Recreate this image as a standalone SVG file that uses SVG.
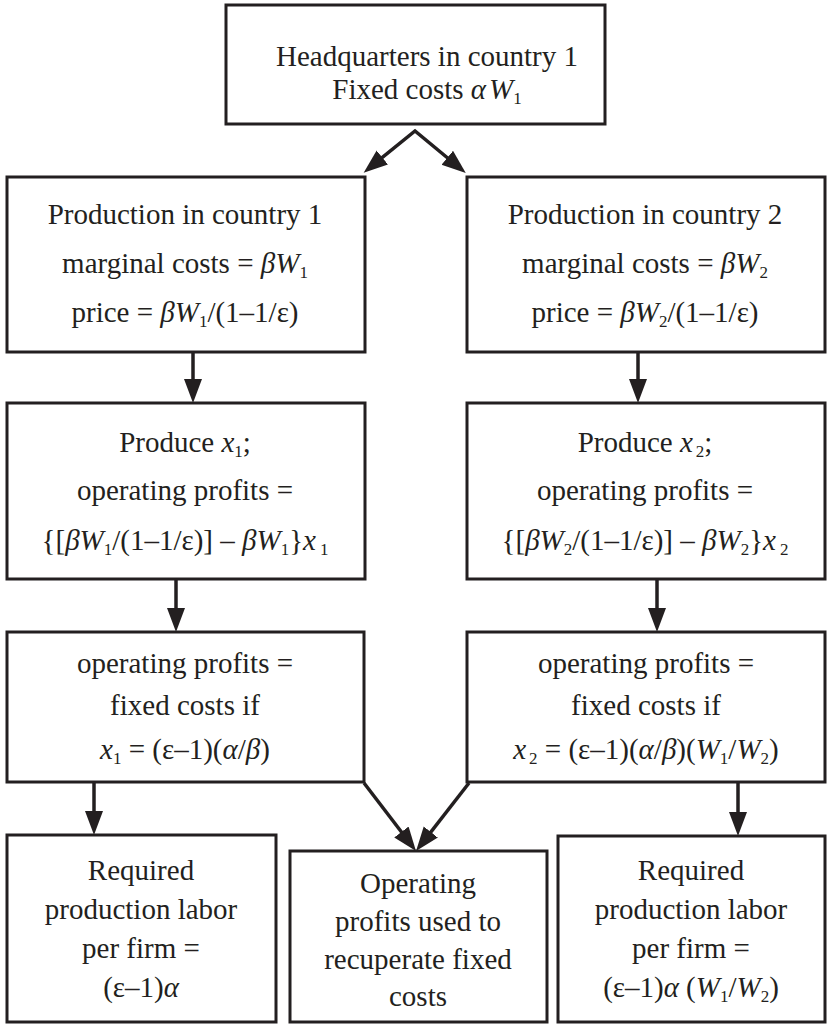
<svg xmlns="http://www.w3.org/2000/svg" width="827" height="1024" viewBox="0 0 827 1024">
  <style>
    .box { fill: #ffffff; stroke: #231f20; stroke-width: 3; }
    .lbl { font-family: "Liberation Serif", "DejaVu Serif", serif; font-size: 29px; fill: #231f20; text-anchor: middle; }
    .it { font-style: italic; }
    .sub { font-size: 17px; }
    .conn { fill: none; stroke: #231f20; stroke-width: 3.5; stroke-linejoin: miter; }
  </style>
  <defs>
    <marker id="head" markerUnits="userSpaceOnUse" markerWidth="26" markerHeight="20" viewBox="0 0 26 20" refX="13" refY="9" orient="auto-start-reverse">
      <path d="M0,0 L24,9 L0,18 z" fill="#231f20"/>
    </marker>
  </defs>
  <rect width="827" height="1024" fill="#ffffff"/>

  <!-- connectors -->
  <g id="connectors" class="conn" marker-end="url(#head)">
    <polyline points="372.2,165.7 415,131 457.3,166" marker-start="url(#head)"/>
    <line x1="193" y1="352" x2="193" y2="392"/>
    <line x1="638" y1="352" x2="638" y2="392"/>
    <line x1="176" y1="579" x2="176" y2="621"/>
    <line x1="657" y1="579" x2="657" y2="621"/>
    <line x1="94" y1="782" x2="94" y2="824"/>
    <line x1="738" y1="782" x2="738" y2="825"/>
    <line x1="364" y1="783" x2="409.3" y2="842.3"/>
    <line x1="469" y1="783" x2="422.8" y2="842.3"/>
  </g>

  <!-- headquarters -->
  <g id="hq">
    <rect class="box" x="226" y="5" width="379" height="119"/>
    <text class="lbl" x="427" y="66">Headquarters in country 1</text>
    <text class="lbl" x="427" y="99">Fixed costs <tspan class="it">α</tspan><tspan class="it" dx="3">W</tspan><tspan class="sub" dy="5">1</tspan></text>
  </g>

  <!-- production, country 1 -->
  <g id="prod1">
    <rect class="box" x="7" y="177" width="358" height="175"/>
    <text class="lbl" x="185" y="224">Production in country 1</text>
    <text class="lbl" x="185" y="273">marginal costs = <tspan class="it">βW</tspan><tspan class="sub" dy="5">1</tspan></text>
    <text class="lbl" x="185" y="322">price = <tspan class="it">βW</tspan><tspan class="sub" dy="5">1</tspan><tspan dy="-5">/(1–1/ε)</tspan></text>
  </g>

  <!-- production, country 2 -->
  <g id="prod2">
    <rect class="box" x="467" y="177" width="358" height="175"/>
    <text class="lbl" x="645" y="224">Production in country 2</text>
    <text class="lbl" x="645" y="273">marginal costs = <tspan class="it">βW</tspan><tspan class="sub" dy="5">2</tspan></text>
    <text class="lbl" x="645" y="322">price = <tspan class="it">βW</tspan><tspan class="sub" dy="5">2</tspan><tspan dy="-5">/(1–1/ε)</tspan></text>
  </g>

  <!-- output, country 1 -->
  <g id="output1">
    <rect class="box" x="7" y="403" width="358" height="176"/>
    <text class="lbl" x="185" y="452">Produce <tspan class="it">x</tspan><tspan class="sub" dy="5">1</tspan><tspan dy="-5">;</tspan></text>
    <text class="lbl" x="185" y="500">operating profits =</text>
    <text class="lbl" x="185" y="550">{[<tspan class="it">βW</tspan><tspan class="sub" dy="5">1</tspan><tspan dy="-5">/(1–1/ε)] – </tspan><tspan class="it">βW</tspan><tspan class="sub" dy="5">1</tspan><tspan dy="-5">}</tspan><tspan class="it">x</tspan><tspan class="sub" dx="4" dy="5">1</tspan></text>
  </g>

  <!-- output, country 2 -->
  <g id="output2">
    <rect class="box" x="467" y="403" width="358" height="176"/>
    <text class="lbl" x="645" y="452">Produce <tspan class="it">x</tspan><tspan class="sub" dx="3" dy="5">2</tspan><tspan dy="-5">;</tspan></text>
    <text class="lbl" x="645" y="500">operating profits =</text>
    <text class="lbl" x="645" y="550">{[<tspan class="it">βW</tspan><tspan class="sub" dy="5">2</tspan><tspan dy="-5">/(1–1/ε)] – </tspan><tspan class="it">βW</tspan><tspan class="sub" dy="5">2</tspan><tspan dy="-5">}</tspan><tspan class="it">x</tspan><tspan class="sub" dx="4" dy="5">2</tspan></text>
  </g>

  <!-- break-even, country 1 -->
  <g id="breakeven1">
    <rect class="box" x="7" y="632" width="357" height="150"/>
    <text class="lbl" x="185" y="673">operating profits =</text>
    <text class="lbl" x="185" y="715">fixed costs if</text>
    <text class="lbl" x="185" y="759"><tspan class="it">x</tspan><tspan class="sub" dy="5">1</tspan><tspan dy="-5"> = (ε–1)(</tspan><tspan class="it">α</tspan>/<tspan class="it">β</tspan>)</text>
  </g>

  <!-- break-even, country 2 -->
  <g id="breakeven2">
    <rect class="box" x="467" y="632" width="358" height="150"/>
    <text class="lbl" x="646" y="673">operating profits =</text>
    <text class="lbl" x="646" y="715">fixed costs if</text>
    <text class="lbl" x="646" y="759"><tspan class="it">x</tspan><tspan class="sub" dx="3" dy="5">2</tspan><tspan dy="-5"> = (ε–1)(</tspan><tspan class="it">α</tspan>/<tspan class="it">β</tspan>)(<tspan class="it">W</tspan><tspan class="sub" dy="5">1</tspan><tspan dy="-5">/</tspan><tspan class="it">W</tspan><tspan class="sub" dy="5">2</tspan><tspan dy="-5">)</tspan></text>
  </g>

  <!-- labor, country 1 -->
  <g id="labor1">
    <rect class="box" x="7" y="835" width="269" height="187"/>
    <text class="lbl" x="141" y="880">Required</text>
    <text class="lbl" x="141" y="919">production labor</text>
    <text class="lbl" x="141" y="958">per firm =</text>
    <text class="lbl" x="141" y="997">(ε–1)<tspan class="it">α</tspan></text>
  </g>

  <!-- fixed cost recovery -->
  <g id="recover">
    <rect class="box" x="290" y="851" width="257" height="171"/>
    <text class="lbl" x="418" y="893">Operating</text>
    <text class="lbl" x="418" y="931">profits used to</text>
    <text class="lbl" x="418" y="969">recuperate fixed</text>
    <text class="lbl" x="418" y="1006">costs</text>
  </g>

  <!-- labor, country 2 -->
  <g id="labor2">
    <rect class="box" x="558" y="836" width="267" height="186"/>
    <text class="lbl" x="691" y="880">Required</text>
    <text class="lbl" x="691" y="919">production labor</text>
    <text class="lbl" x="691" y="958">per firm =</text>
    <text class="lbl" x="691" y="997">(ε–1)<tspan class="it">α</tspan> (<tspan class="it">W</tspan><tspan class="sub" dy="5">1</tspan><tspan dy="-5">/</tspan><tspan class="it">W</tspan><tspan class="sub" dy="5">2</tspan><tspan dy="-5">)</tspan></text>
  </g>
</svg>
